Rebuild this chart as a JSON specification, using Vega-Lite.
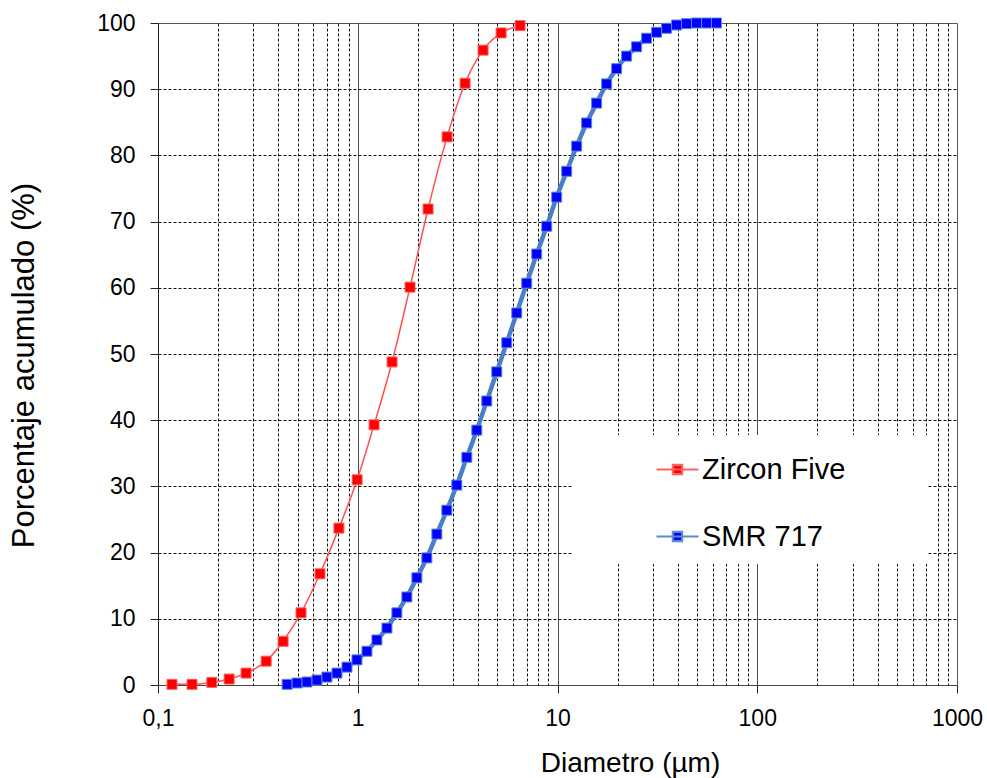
{
  "$schema": "https://vega.github.io/schema/vega-lite/v6.json",
  "autosize": {"type": "none"},
  "width": 799,
  "height": 662,
  "padding": {"left": 158, "top": 23, "right": 30, "bottom": 93},
  "background": "white",
  "config": {
    "font": "Liberation Sans",
    "view": {"stroke": "#555", "strokeWidth": 1},
    "axis": {"labelFont": "Liberation Sans", "titleFont": "Liberation Sans", "labelColor": "black", "titleColor": "black", "titleFontWeight": "normal"}
  },
  "data": {
    "values": [
      {"series": "Zircon Five", "d": 0.1175, "p": 0.1},
      {"series": "Zircon Five", "d": 0.148, "p": 0.1},
      {"series": "Zircon Five", "d": 0.186, "p": 0.4},
      {"series": "Zircon Five", "d": 0.227, "p": 0.9},
      {"series": "Zircon Five", "d": 0.276, "p": 1.8},
      {"series": "Zircon Five", "d": 0.348, "p": 3.6},
      {"series": "Zircon Five", "d": 0.423, "p": 6.6},
      {"series": "Zircon Five", "d": 0.52, "p": 10.9},
      {"series": "Zircon Five", "d": 0.647, "p": 16.8},
      {"series": "Zircon Five", "d": 0.805, "p": 23.7},
      {"series": "Zircon Five", "d": 0.993, "p": 31.0},
      {"series": "Zircon Five", "d": 1.207, "p": 39.3},
      {"series": "Zircon Five", "d": 1.485, "p": 48.8},
      {"series": "Zircon Five", "d": 1.827, "p": 60.1},
      {"series": "Zircon Five", "d": 2.249, "p": 71.9},
      {"series": "Zircon Five", "d": 2.801, "p": 82.8},
      {"series": "Zircon Five", "d": 3.446, "p": 90.9},
      {"series": "Zircon Five", "d": 4.24, "p": 95.9},
      {"series": "Zircon Five", "d": 5.219, "p": 98.5},
      {"series": "Zircon Five", "d": 6.498, "p": 99.6},
      {"series": "SMR 717", "d": 0.443, "p": 0.1},
      {"series": "SMR 717", "d": 0.497, "p": 0.3},
      {"series": "SMR 717", "d": 0.557, "p": 0.45},
      {"series": "SMR 717", "d": 0.625, "p": 0.75},
      {"series": "SMR 717", "d": 0.701, "p": 1.2},
      {"series": "SMR 717", "d": 0.787, "p": 1.8},
      {"series": "SMR 717", "d": 0.883, "p": 2.7},
      {"series": "SMR 717", "d": 0.991, "p": 3.8},
      {"series": "SMR 717", "d": 1.112, "p": 5.1},
      {"series": "SMR 717", "d": 1.247, "p": 6.8},
      {"series": "SMR 717", "d": 1.4, "p": 8.6},
      {"series": "SMR 717", "d": 1.57, "p": 10.9},
      {"series": "SMR 717", "d": 1.762, "p": 13.3},
      {"series": "SMR 717", "d": 1.977, "p": 16.2},
      {"series": "SMR 717", "d": 2.218, "p": 19.2},
      {"series": "SMR 717", "d": 2.489, "p": 22.8},
      {"series": "SMR 717", "d": 2.793, "p": 26.4},
      {"series": "SMR 717", "d": 3.133, "p": 30.2},
      {"series": "SMR 717", "d": 3.516, "p": 34.4},
      {"series": "SMR 717", "d": 3.945, "p": 38.5},
      {"series": "SMR 717", "d": 4.426, "p": 42.9},
      {"series": "SMR 717", "d": 4.966, "p": 47.3},
      {"series": "SMR 717", "d": 5.572, "p": 51.7},
      {"series": "SMR 717", "d": 6.252, "p": 56.2},
      {"series": "SMR 717", "d": 7.015, "p": 60.7},
      {"series": "SMR 717", "d": 7.87, "p": 65.1},
      {"series": "SMR 717", "d": 8.831, "p": 69.3},
      {"series": "SMR 717", "d": 9.908, "p": 73.7},
      {"series": "SMR 717", "d": 11.12, "p": 77.6},
      {"series": "SMR 717", "d": 12.47, "p": 81.4},
      {"series": "SMR 717", "d": 13.99, "p": 84.9},
      {"series": "SMR 717", "d": 15.7, "p": 87.9},
      {"series": "SMR 717", "d": 17.62, "p": 90.8},
      {"series": "SMR 717", "d": 19.77, "p": 93.1},
      {"series": "SMR 717", "d": 22.18, "p": 95.0},
      {"series": "SMR 717", "d": 24.89, "p": 96.4},
      {"series": "SMR 717", "d": 27.93, "p": 97.7},
      {"series": "SMR 717", "d": 31.33, "p": 98.6},
      {"series": "SMR 717", "d": 35.16, "p": 99.2},
      {"series": "SMR 717", "d": 39.45, "p": 99.7},
      {"series": "SMR 717", "d": 44.26, "p": 99.9},
      {"series": "SMR 717", "d": 49.66, "p": 100},
      {"series": "SMR 717", "d": 55.72, "p": 100},
      {"series": "SMR 717", "d": 62.52, "p": 100}
    ]
  },
  "encoding": {
    "x": {
      "field": "d", "type": "quantitative",
      "scale": {"type": "log", "domain": [0.1, 1000], "nice": false},
      "axis": {
        "title": "Diametro (µm)",
        "titleFontSize": 28,
        "titleX": 472, "titleY": 86, "titleAlign": "center", "titleBaseline": "alphabetic",
        "values": [0.1, 0.2, 0.3, 0.4, 0.5, 0.6, 0.7, 0.8, 0.9, 1, 2, 3, 4, 5, 6, 7, 8, 9, 10, 20, 30, 40, 50, 60, 70, 80, 90, 100, 200, 300, 400, 500, 600, 700, 800, 900, 1000],
        "labelExpr": "datum.value === 0.1 ? '0,1' : ((datum.value === 1 || datum.value === 10 || datum.value === 100 || datum.value === 1000) ? format(datum.value, 'd') : '')",
        "labelFontSize": 23,
        "labelPadding": 14,
        "labelOverlap": false,
        "labelFlush": false,
        "tickSize": {"condition": {"test": "datum.value === 0.1 || datum.value === 1 || datum.value === 10 || datum.value === 100 || datum.value === 1000", "value": 8}, "value": 0},
        "tickColor": "#222",
        "domainColor": "#444",
        "grid": true,
        "gridColor": "#111",
        "gridWidth": 1,
        "gridDash": {"condition": {"test": "datum.value === 1 || datum.value === 10 || datum.value === 100", "value": [1, 0]}, "value": [3, 2]},
        "gridOpacity": {"condition": {"test": "datum.value === 0.1 || datum.value === 1000", "value": 0}, "value": 1}
      }
    },
    "y": {
      "field": "p", "type": "quantitative",
      "scale": {"domain": [0, 100], "nice": false},
      "axis": {
        "title": "Porcentaje acumulado (%)",
        "titleFontSize": 31,
        "titleX": -125, "titleY": 342, "titleAlign": "center", "titleBaseline": "alphabetic", "titleAngle": -90,
        "values": [0, 10, 20, 30, 40, 50, 60, 70, 80, 90, 100],
        "labelFontSize": 23,
        "labelPadding": 15,
        "tickSize": 8,
        "tickColor": "#222",
        "domainColor": "#222",
        "grid": true,
        "gridColor": "#111",
        "gridWidth": 1,
        "gridDash": [3, 2],
        "gridOpacity": {"condition": {"test": "datum.value === 0 || datum.value === 100", "value": 0}, "value": 1}
      }
    }
  },
  "layer": [
    {
      "transform": [{"filter": "datum.series === 'SMR 717'"}],
      "mark": {"type": "line", "color": "#4a7ec8", "strokeWidth": 4.5, "interpolate": "monotone"}
    },
    {
      "transform": [{"filter": "datum.series === 'Zircon Five'"}],
      "mark": {"type": "line", "color": "#ff5050", "strokeWidth": 1.5, "interpolate": "monotone"}
    },
    {
      "mark": {"type": "point", "shape": "square", "filled": true, "size": 100, "opacity": 1, "strokeWidth": 1},
      "encoding": {
        "stroke": {
          "field": "series", "type": "nominal",
          "scale": {"domain": ["Zircon Five", "SMR 717"], "range": ["#ff6060", "#5a8ad0"]},
          "legend": {}
        },
        "fill": {
          "field": "series", "type": "nominal",
          "scale": {"domain": ["Zircon Five", "SMR 717"], "range": ["#ff0000", "#0000ff"]},
          "legend": {
            "title": "\u00a0",
            "titleOrient": "left",
            "titleFontSize": 1,
            "titlePadding": 71,
            "orient": "none",
            "legendX": 414,
            "legendY": 412,
            "padding": 12,
            "fillColor": "white",
            "strokeColor": null,
            "symbolType": "M-1,0H1M-0.22,-0.22H0.22V0.22H-0.22Z",
            "symbolSize": 1764,
            "symbolStrokeWidth": 2.2,
            "symbolOpacity": 1,
            "rowPadding": 29,
            "labelOffset": 2,
            "labelFont": "Liberation Sans",
            "labelFontSize": 29,
            "labelColor": "black",
            "labelLimit": 400,
            "labelExpr": "datum.label + '\u00a0\u00a0\u00a0\u00a0\u00a0\u00a0\u2800'"
          }
        }
      }
    }
  ]
}
